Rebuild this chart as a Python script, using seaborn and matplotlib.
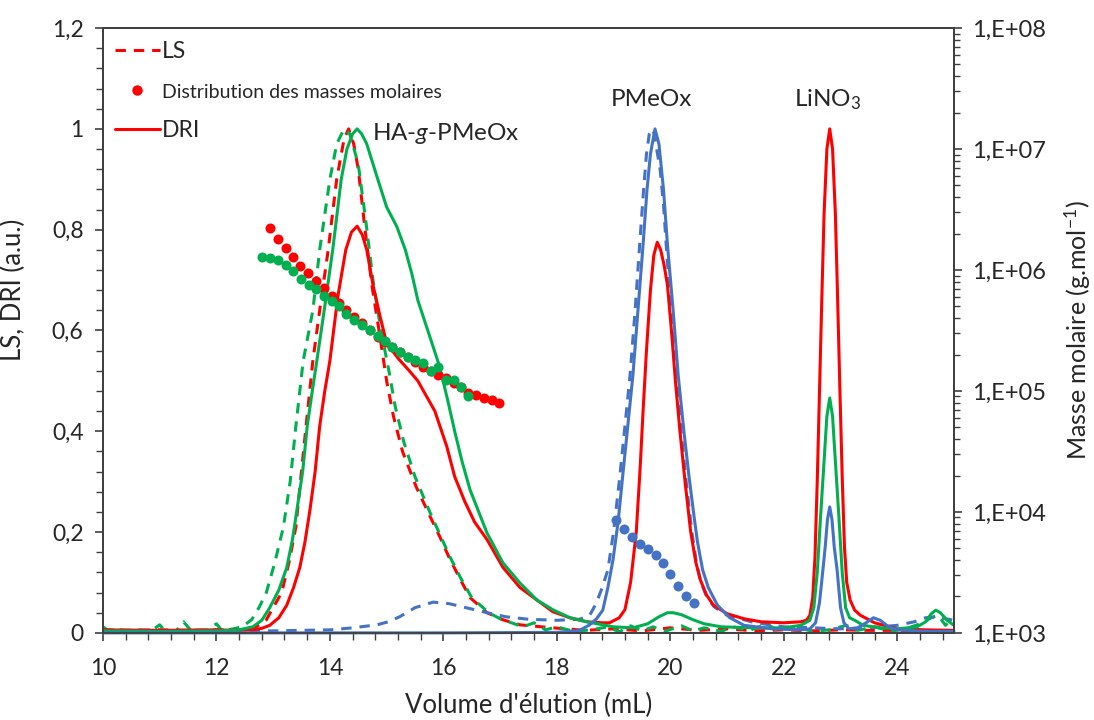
import math
import matplotlib
matplotlib.use('Agg')
import matplotlib.pyplot as plt
import seaborn as sns
from matplotlib.lines import Line2D
from matplotlib.ticker import MultipleLocator, FuncFormatter, LogLocator, NullFormatter

sns.set_style('ticks')
plt.rcParams['font.family'] = ['Lato', 'DejaVu Sans']
plt.rcParams['mathtext.fontset'] = 'custom'
plt.rcParams['mathtext.rm'] = 'Lato'
plt.rcParams['mathtext.it'] = 'Lato:italic'

RED = '#FF0000'
GREEN = '#00B050'
BLUE = '#4472C4'

# LS signal (dashed)
red_ls_x = [10.0, 10.5, 11.0, 11.5, 12.0, 12.5, 12.7, 12.88, 13.15, 13.28, 13.4, 13.58, 13.7, 13.82, 13.97,
            14.12, 14.25, 14.33, 14.42, 14.5, 14.62, 14.74, 14.88, 15.0, 15.12, 15.28, 15.52, 15.77, 15.94,
            16.1, 16.28, 16.47, 16.77, 17.05, 17.35, 17.93, 18.5, 19.0, 19.5, 20.0, 20.5, 21.0, 21.5, 22.0,
            22.5, 23.0, 23.5, 24.0, 24.5, 25.0]
red_ls_y = [0.006, 0.005, 0.006, 0.005, 0.006, 0.006, 0.012, 0.026, 0.08, 0.14, 0.21, 0.41, 0.54, 0.64, 0.76,
            0.9, 0.98, 1.0, 0.97, 0.92, 0.8, 0.69, 0.59, 0.5, 0.43, 0.36, 0.29, 0.23, 0.19,
            0.15, 0.11, 0.07, 0.04, 0.026, 0.016, 0.01, 0.005, 0.008, 0.004, 0.01, 0.005, 0.008, 0.004, 0.006,
            0.004, 0.006, 0.005, 0.005, 0.004, 0.005]

green_ls_x = [10.0, 10.1, 10.25, 10.4, 10.6, 10.85, 11.0, 11.1, 11.3, 11.42, 11.55, 11.8, 12.0, 12.1, 12.3,
              12.45, 12.62, 12.75, 12.88, 13.03, 13.18, 13.3, 13.4, 13.53, 13.7, 13.82, 14.0, 14.12, 14.25,
              14.35, 14.5, 14.63, 14.76, 14.9, 15.04, 15.15, 15.3, 15.5, 15.76, 15.96, 16.12, 16.3, 16.5,
              16.8, 17.0, 17.2, 17.4, 17.6, 17.8, 18.0, 18.3, 18.6, 18.9, 19.1, 19.3, 19.5, 19.7, 19.9,
              20.2, 20.4, 20.6, 20.9, 21.1, 21.4, 21.7, 21.9, 22.2, 22.5, 22.8, 23.1, 23.3, 23.6, 23.9,
              24.2, 24.45, 24.6, 24.72, 24.85, 25.0]
green_ls_y = [0.012, 0.004, 0.008, 0.003, 0.006, 0.004, 0.016, 0.003, 0.005, 0.022, 0.005, 0.004, 0.018, 0.004, 0.008,
              0.012, 0.026, 0.05, 0.08, 0.14, 0.21, 0.3, 0.41, 0.54, 0.64, 0.76, 0.9, 0.97, 1.0,
              0.99, 0.93, 0.82, 0.7, 0.6, 0.52, 0.45, 0.38, 0.31, 0.24, 0.19, 0.15, 0.11, 0.07,
              0.04, 0.028, 0.02, 0.012, 0.02, 0.006, 0.012, 0.003, 0.006, 0.012, 0.002, 0.014, 0.004, 0.012, 0.003,
              0.014, 0.004, 0.01, 0.003, 0.012, 0.005, 0.018, 0.004, 0.012, 0.003, 0.006, 0.015, 0.005, 0.012, 0.003,
              0.01, 0.02, 0.03, 0.035, 0.015, 0.03]

blue_ls_x = [10.0, 11.0, 12.0, 13.0, 13.5, 14.0, 14.4, 14.83, 15.03, 15.23, 15.5, 15.82, 16.1, 16.4, 16.77,
             17.1, 17.5, 18.0, 18.4, 18.58, 18.7, 18.8, 18.9, 19.0, 19.11, 19.2, 19.29, 19.38, 19.46, 19.53,
             19.58, 19.63, 19.67, 19.72, 19.76, 19.82, 19.88, 19.94, 20.03, 20.11, 20.19, 20.27, 20.38, 20.46,
             20.54, 20.64, 20.77, 21.0, 21.5, 22.0, 22.5, 23.0, 23.5, 24.0, 24.3, 24.5, 24.7, 24.85, 25.0]
blue_ls_y = [0.004, 0.003, 0.004, 0.004, 0.005, 0.006, 0.01, 0.016, 0.022, 0.032, 0.05, 0.061, 0.058, 0.05, 0.04,
             0.032, 0.027, 0.025, 0.027, 0.035, 0.06, 0.09, 0.125, 0.2, 0.31, 0.41, 0.51, 0.64, 0.77, 0.88,
             0.95, 0.99, 1.0, 0.99, 0.96, 0.92, 0.85, 0.75, 0.62, 0.51, 0.4, 0.31, 0.2, 0.14,
             0.1, 0.072, 0.052, 0.035, 0.02, 0.012, 0.01, 0.008, 0.01, 0.015, 0.022, 0.03, 0.032, 0.028, 0.025]

# DRI signal (solid)
red_dri_x = [10.0, 11.0, 12.0, 12.4, 12.64, 12.8, 12.94, 13.1, 13.24, 13.36, 13.47, 13.56, 13.65, 13.74, 13.82,
             13.91, 14.0, 14.14, 14.28, 14.38, 14.48, 14.57, 14.65, 14.76, 14.88, 15.0, 15.2, 15.4, 15.55, 15.7,
             15.85, 16.06, 16.2, 16.38, 16.55, 16.77, 17.05, 17.35, 17.65, 17.93, 18.23, 18.53, 18.8, 18.93,
             19.1, 19.2, 19.3, 19.4, 19.47, 19.52, 19.58, 19.65, 19.71, 19.77, 19.83, 19.89, 19.95, 20.02,
             20.09, 20.17, 20.26, 20.36, 20.45, 20.53, 20.64, 20.76, 21.0, 21.3, 21.6, 22.0, 22.3, 22.4,
             22.46, 22.51, 22.55, 22.59, 22.63, 22.67, 22.71, 22.76, 22.81, 22.86, 22.91, 22.95, 22.99, 23.03,
             23.07, 23.11, 23.17, 23.25, 23.35, 23.6, 24.0, 24.5, 25.0]
red_dri_y = [0.006, 0.005, 0.006, 0.005, 0.006, 0.009, 0.015, 0.03, 0.055, 0.09, 0.13, 0.18, 0.245, 0.32, 0.41,
             0.48, 0.54, 0.667, 0.76, 0.795, 0.807, 0.79, 0.76, 0.69, 0.63, 0.575, 0.545, 0.52, 0.5, 0.47,
             0.44, 0.37, 0.31, 0.26, 0.22, 0.185, 0.13, 0.09, 0.065, 0.042, 0.03, 0.022, 0.02, 0.02,
             0.03, 0.046, 0.1, 0.2, 0.33, 0.44, 0.56, 0.68, 0.75, 0.775, 0.76, 0.73, 0.69, 0.6,
             0.5, 0.4, 0.3, 0.2, 0.14, 0.105, 0.075, 0.055, 0.038, 0.028, 0.022, 0.02, 0.022, 0.025,
             0.035, 0.07, 0.15, 0.3, 0.48, 0.66, 0.83, 0.96, 1.0, 0.96, 0.83, 0.66, 0.48, 0.31,
             0.17, 0.1, 0.065, 0.045, 0.035, 0.02, 0.008, 0.006, 0.005]

green_dri_x = [10.0, 11.0, 12.0, 12.36, 12.64, 12.8, 12.94, 13.1, 13.24, 13.34, 13.42, 13.52, 13.6, 13.69, 13.77,
               13.9, 14.05, 14.2, 14.3, 14.4, 14.48, 14.56, 14.65, 14.83, 15.0, 15.18, 15.33, 15.45, 15.55, 15.74,
               15.93, 16.08, 16.2, 16.33, 16.47, 16.77, 17.05, 17.35, 17.65, 17.93, 18.23, 18.53, 18.76, 19.0,
               19.34, 19.6, 19.8, 19.95, 20.05, 20.2, 20.4, 20.6, 20.9, 21.5, 22.0, 22.3, 22.46, 22.53, 22.59,
               22.65, 22.71, 22.76, 22.81, 22.86, 22.91, 22.97, 23.03, 23.09, 23.16, 23.25, 23.4, 23.7, 24.0,
               24.35, 24.5, 24.6, 24.68, 24.76, 24.88, 25.0]
green_dri_y = [0.004, 0.003, 0.004, 0.005, 0.012, 0.025, 0.05, 0.085, 0.13, 0.185, 0.245, 0.32, 0.41, 0.48, 0.54,
               0.64, 0.76, 0.9, 0.96, 0.99, 1.0, 0.99, 0.97, 0.905, 0.845, 0.806, 0.76, 0.71, 0.66, 0.595,
               0.53, 0.46, 0.4, 0.34, 0.284, 0.198, 0.139, 0.099, 0.065, 0.046, 0.03, 0.022, 0.017, 0.012,
               0.01, 0.018, 0.032, 0.04, 0.04, 0.036, 0.026, 0.018, 0.012, 0.01, 0.01, 0.015, 0.025, 0.05, 0.12,
               0.233, 0.34, 0.43, 0.466, 0.43, 0.34, 0.233, 0.12, 0.05, 0.03, 0.025, 0.015, 0.01, 0.008,
               0.012, 0.022, 0.038, 0.045, 0.04, 0.025, 0.015]

blue_dri_x = [10.0, 12.0, 14.0, 16.0, 18.0, 18.4, 18.58, 18.7, 18.81, 18.9, 18.99, 19.08, 19.16, 19.25, 19.34,
              19.43, 19.52, 19.59, 19.65, 19.73, 19.8, 19.88, 19.95, 20.05, 20.14, 20.24, 20.33, 20.42, 20.48,
              20.57, 20.67, 20.83, 21.05, 21.3, 21.8, 22.3, 22.46, 22.56, 22.63, 22.69, 22.73, 22.77, 22.81,
              22.85, 22.89, 22.94, 23.0, 23.06, 23.15, 23.3, 23.45, 23.58, 23.7, 23.85, 24.0, 24.5, 25.0]
blue_dri_y = [0.0, 0.0, 0.0, 0.0, 0.001, 0.005, 0.016, 0.028, 0.045, 0.09, 0.145, 0.22, 0.31, 0.41, 0.51,
              0.64, 0.77, 0.88, 0.95, 1.0, 0.97, 0.88, 0.77, 0.64, 0.51, 0.4, 0.31, 0.23, 0.18,
              0.125, 0.09, 0.055, 0.03, 0.015, 0.008, 0.006, 0.008, 0.02, 0.06, 0.125, 0.17, 0.225, 0.25,
              0.225, 0.17, 0.125, 0.05, 0.02, 0.008, 0.01, 0.02, 0.03, 0.025, 0.012, 0.006, 0.003, 0.003]

# molar mass distribution (g/mol)
red_mm_x = [12.94, 13.09, 13.22, 13.35, 13.48, 13.62, 13.75, 13.89, 14.03, 14.16, 14.29, 14.43, 14.56, 14.70,
            14.84, 14.97, 15.10, 15.23, 15.37, 15.50, 15.64, 15.78, 15.91, 16.04, 16.18, 16.31, 16.44, 16.58,
            16.71, 16.85, 16.98]
red_mm = [2.21e6, 1.79e6, 1.51e6, 1.27e6, 1.08e6, 9.4e5, 8.1e5, 7.06e5, 6.1e5, 5.31e5, 4.67e5, 4.11e5, 3.66e5,
          3.19e5, 2.81e5, 2.55e5, 2.30e5, 2.09e5, 1.90e5, 1.75e5, 1.59e5, 1.45e5, 1.36e5, 1.27e5, 1.16e5,
          1.07e5, 9.6e4, 9.3e4, 8.8e4, 8.4e4, 8.0e4]

green_mm_x = [12.81, 12.94, 13.09, 13.22, 13.35, 13.49, 13.63, 13.75, 13.90, 14.03, 14.16, 14.29, 14.43, 14.56,
              14.70, 14.84, 14.97, 15.10, 15.23, 15.37, 15.50, 15.64, 15.78, 15.91, 16.04, 16.18, 16.31, 16.44]
green_mm = [1.29e6, 1.25e6, 1.21e6, 1.09e6, 9.9e5, 8.5e5, 7.5e5, 6.9e5, 6.1e5, 5.5e5, 5.0e5, 4.3e5, 3.86e5,
            3.51e5, 3.19e5, 2.85e5, 2.61e5, 2.30e5, 2.09e5, 1.92e5, 1.80e5, 1.69e5, 1.47e5, 1.59e5, 1.23e5,
            1.23e5, 1.07e5, 9.1e4]

blue_mm_x = [19.05, 19.19, 19.33, 19.46, 19.60, 19.74, 19.87, 20.00, 20.14, 20.27, 20.41]
blue_mm = [8.5e3, 7.2e3, 6.2e3, 5.4e3, 4.9e3, 4.4e3, 3.76e3, 3.05e3, 2.43e3, 2.0e3, 1.76e3]

fig, ax = plt.subplots(figsize=(10.94, 7.2), dpi=100)
fig.subplots_adjust(left=0.0941, right=0.872, top=0.961, bottom=0.121)
ax2 = ax.twinx()

lw = 2.2
dash = (0, (3.4, 2.6))
for xs, ys, c in [(red_ls_x, red_ls_y, RED), (green_ls_x, green_ls_y, GREEN), (blue_ls_x, blue_ls_y, BLUE)]:
    sns.lineplot(x=xs, y=ys, ax=ax, color=c, linewidth=lw, linestyle=dash, errorbar=None)
for xs, ys, c in [(red_dri_x, red_dri_y, RED), (green_dri_x, green_dri_y, GREEN)]:
    sns.lineplot(x=xs, y=ys, ax=ax, color=c, linewidth=lw, errorbar=None)
sns.lineplot(x=blue_dri_x, y=blue_dri_y, ax=ax, color=BLUE, linewidth=lw, errorbar=None,
             clip_on=False, zorder=3)

for xs, ms, c in [(red_mm_x, red_mm, RED), (green_mm_x, green_mm, GREEN), (blue_mm_x, blue_mm, BLUE)]:
    sns.scatterplot(x=xs, y=ms, ax=ax2, color=c, s=52, linewidth=0)

# axes
ax.set_xlim(10, 25)
ax.set_ylim(0, 1.2)
ax.xaxis.set_major_locator(MultipleLocator(2))
ax.xaxis.set_minor_locator(MultipleLocator(0.4))
ax.yaxis.set_major_locator(MultipleLocator(0.2))
ax.yaxis.set_minor_locator(MultipleLocator(0.04))
ax.yaxis.set_major_formatter(FuncFormatter(lambda v, p: ('%g' % round(v, 2)).replace('.', ',')))

ax2.set_yscale('log')
ax2.set_ylim(1e3, 1e8)
ax2.yaxis.set_major_locator(LogLocator(base=10, numticks=10))
ax2.yaxis.set_minor_locator(LogLocator(base=10, subs=range(2, 10), numticks=20))
ax2.yaxis.set_minor_formatter(NullFormatter())
ax2.yaxis.set_major_formatter(FuncFormatter(lambda v, p: '1,E+%02d' % round(math.log10(v))))

spine_c = '#404040'
for a in (ax, ax2):
    for s in a.spines.values():
        s.set_visible(True)
        s.set_color(spine_c)
        s.set_linewidth(1.3)
ax.tick_params(axis='both', which='major', direction='out', length=6, width=1.2, color=spine_c,
               labelsize=16.5)
ax.tick_params(axis='x', which='major', pad=12)
ax.tick_params(axis='y', which='major', pad=8)
ax.tick_params(axis='both', which='minor', direction='out', length=5, width=1.0, color=spine_c)
ax.tick_params(axis='x', which='both', top=False)
ax.tick_params(axis='y', which='both', right=False)
ax2.tick_params(axis='y', which='major', direction='out', length=6, width=1.2, color=spine_c,
                labelsize=17, pad=7)
ax2.tick_params(axis='y', which='minor', direction='out', length=4, width=1.0, color=spine_c)

ax.set_xlabel("Volume d'élution (mL)", fontsize=18.5, labelpad=10)
ax.set_ylabel('LS, DRI (a.u.)', fontsize=18.5)
ax.yaxis.set_label_coords(-0.09, 0.567)
ax2.set_ylabel('Masse molaire (g.mol$^{-1}$)', fontsize=18)
ax2.yaxis.set_label_coords(1.127, 0.5)

# annotations
ax.text(14.75, 0.99, 'HA-$g$-PMeOx', fontsize=17.5, ha='left', va='center')
ax.text(19.67, 1.058, 'PMeOx', fontsize=17.5, ha='center', va='center')
ax.text(22.78, 1.058, 'LiNO$_3$', fontsize=17.5, ha='center', va='center')

handles = [Line2D([], [], color=RED, linewidth=lw, linestyle=dash),
           Line2D([], [], color=RED, marker='o', markersize=6.5, linestyle='none'),
           Line2D([], [], color=RED, linewidth=lw)]
leg = ax.legend(handles, ['LS', 'Distribution des masses molaires', 'DRI'], loc='upper left',
                bbox_to_anchor=(0.014, 0.978), frameon=False, fontsize=16.5, handlelength=1.95,
                handletextpad=0.1, labelspacing=0.85, borderaxespad=0, borderpad=0)
leg.get_texts()[1].set_fontsize(14)

fig.savefig('out.png', dpi=100)
